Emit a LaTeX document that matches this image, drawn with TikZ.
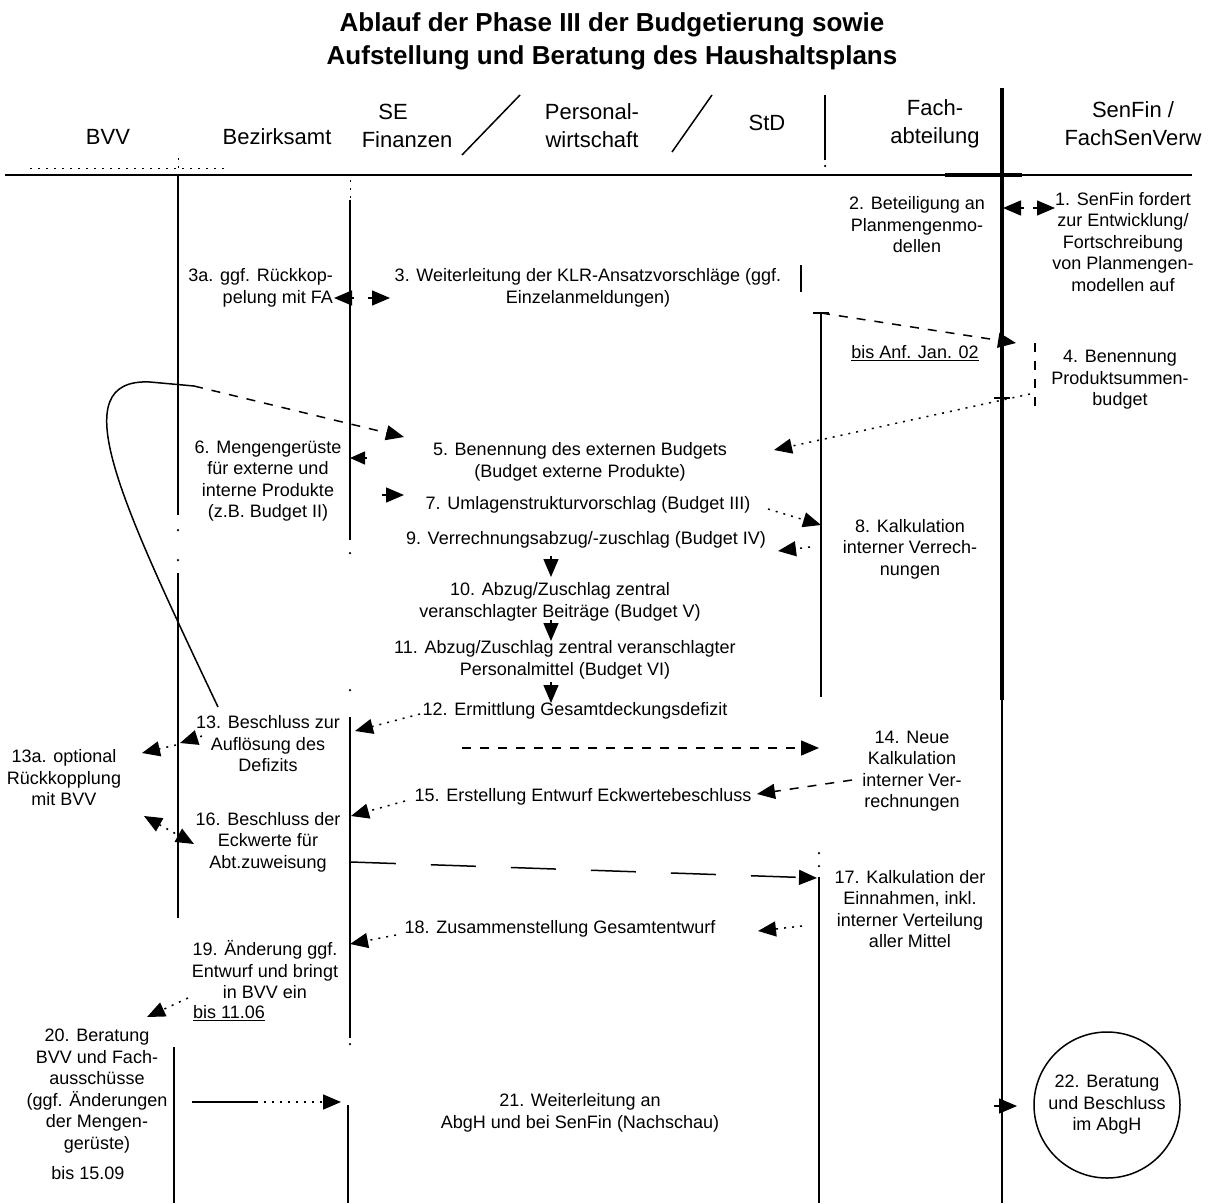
\documentclass[tikz,border=0pt]{standalone}
\usepackage{fontspec}
\setmainfont{Liberation Sans}
\usetikzlibrary{arrows.meta}
\tikzset{
  txt/.style={font=\fontsize{18}{21.5}\selectfont, align=center, inner sep=0pt},
  hdr/.style={font=\fontsize{22}{28}\selectfont, align=center, inner sep=0pt},
  ttl/.style={font=\fontsize{26}{32}\selectfont\bfseries, inner sep=0pt},
  ln/.style={line width=1.5pt},
  tip/.style={-{Triangle[length=18pt,width=15pt]}},
  dtip/.style={{Triangle[length=18pt,width=15pt]}-{Triangle[length=18pt,width=15pt]}},
  dotl/.style={dash pattern=on 2pt off 6pt, line width=1.5pt},
  dashl/.style={dash pattern=on 9pt off 9pt, line width=1.5pt},
  longdash/.style={dash pattern=on 45pt off 35pt, line width=1.5pt},
  dotpt/.style={fill, circle, inner sep=0pt, minimum size=2.5pt}
}
\begin{document}
\begin{tikzpicture}[x=1pt,y=-1pt]
\useasboundingbox (0,0) rectangle (1221,1203);
% ---------- title
\node[ttl] (t1) at (612,25) {Ablauf der Phase III der Budgetierung sowie};
\node[ttl] (t2) at (612,58) {Aufstellung und Beratung des Haushaltsplans};
% ---------- header
\node[hdr] (hBVV) at (108,137) {BVV};
\node[hdr] (hBA) at (277,137) {Bezirksamt};
\node[hdr] (hSE1) at (393,112) {SE};
\node[hdr] (hSE2) at (407,140) {Finanzen};
\node[hdr] (hPW) at (592,126) {Personal-\\wirtschaft};
\node[hdr] (hStD) at (767,123) {StD};
\node[hdr] (hFA) at (935,124) {Fach-\\abteilung};
\node[hdr] (hSen) at (1133,124) {SenFin /\\FachSenVerw};
\draw[ln] (5,175) -- (1192,175);
\draw[line width=3.5pt] (945,175) -- (1022,175);
\draw[dotl, line width=1pt] (30,168) -- (225,168);
\draw[ln] (520,95) -- (462,155);
\draw[ln] (712,95) -- (672,152);
\draw[ln] (825,95) -- (825,160);
\node[dotpt] (hd1) at (825,166) {};
% ---------- lifelines
\draw[line width=3.5pt] (1002,88) -- (1002,700);
\draw[line width=2pt] (1002,700) -- (1002,1203);
\draw[ln] (994,398) -- (1010,398);
\draw[dotl, line width=1pt] (178,158) -- (178,175);
\draw[ln] (178,175) -- (178,515);
\node[dotpt] (b1) at (178,530) {};
\node[dotpt] (b2) at (178,560) {};
\draw[ln] (178,573) -- (178,918);
\draw[ln] (174,1047) -- (174,1203);
\draw[dotl, line width=1pt] (350,180) -- (350,200);
\draw[ln] (350,200) -- (350,540);
\node[dotpt] (b3) at (350,553) {};
\node[dotpt] (b4) at (350,690) {};
\draw[ln] (350,717) -- (350,1038);
\node[dotpt] (b5) at (350,1044) {};
\draw[ln] (348,1105) -- (348,1203);
\draw[ln] (813,313) coordinate (tL) -- (829,313);
\coordinate (tT) at (821,313);
\draw[ln] (tT) -- (821,697);
\node[dotpt] (b6) at (819,853) {};
\node[dotpt] (b7) at (819,866) {};
\draw[ln] (819,877) -- (819,1203);
\draw[ln] (801,265) -- (801,292);
\draw[dashl] (1035,343) -- (1035,410);
% ---------- texts
\node[txt] (n1) at (1123,242) {1. SenFin fordert\\zur Entwicklung/\\Fortschreibung\\von Planmengen-\\modellen auf};
\node[txt] (n2) at (917,225) {2. Beteiligung an\\Planmengenmo-\\dellen};
\node[txt, align=right, anchor=east] (n3a) at (333,288) {3a. ggf. Rückkop-\\pelung mit FA};
\node[txt] (n3) at (588,288) {3. Weiterleitung der KLR-Ansatzvorschläge (ggf.\\Einzelanmeldungen)};
\node[txt] (dl1) at (915,353) {\underline{bis Anf. Jan. 02}};
\node[txt] (n4) at (1120,380) {4. Benennung\\Produktsummen-\\budget};
\node[txt] (n5) at (580,462) {5. Benennung des externen Budgets\\(Budget externe Produkte)};
\node[txt] (n6) at (268,481) {6. Mengengerüste\\für externe und\\interne Produkte\\(z.B. Budget II)};
\node[txt] (n7) at (588,505) {7. Umlagenstrukturvorschlag (Budget III)};
\node[txt] (n8) at (910,549) {8. Kalkulation\\interner Verrech-\\nungen};
\node[txt] (n9) at (586,540) {9. Verrechnungsabzug/-zuschlag (Budget IV)};
\node[txt] (n10) at (560,602) {10. Abzug/Zuschlag zentral\\veranschlagter Beiträge (Budget V)};
\node[txt] (n11) at (565,660) {11. Abzug/Zuschlag zentral veranschlagter\\Personalmittel (Budget VI)};
\node[txt] (n12) at (575,711) {12. Ermittlung Gesamtdeckungsdefizit};
\node[txt] (n13) at (268,744) {13. Beschluss zur\\Auflösung des\\Defizits};
\node[txt] (n13a) at (64,778) {13a. optional\\Rückkopplung\\mit BVV};
\node[txt] (n14) at (912,771) {14. Neue\\Kalkulation\\interner Ver-\\rechnungen};
\node[txt] (n15) at (583,797) {15. Erstellung Entwurf Eckwertebeschluss};
\node[txt] (n16) at (268,842) {16. Beschluss der\\Eckwerte für\\Abt.zuweisung};
\node[txt] (n17) at (910,909) {17. Kalkulation der\\Einnahmen, inkl.\\interner Verteilung\\aller Mittel};
\node[txt] (n18) at (560,929) {18. Zusammenstellung Gesamtentwurf};
\node[txt] (n19) at (265,970) {19. Änderung ggf.\\Entwurf und bringt\\in BVV ein};
\node[txt] (dl2) at (229,1013) {\underline{bis 11.06}};
\node[txt] (n20) at (97,1091) {20. Beratung\\BVV und Fach-\\ausschüsse\\(ggf. Änderungen\\der Mengen-\\gerüste)};
\node[txt] (dl3) at (88,1173) {bis 15.09};
\node[txt] (n21) at (580,1113) {21. Weiterleitung an\\AbgH und bei SenFin (Nachschau)};
\node[txt, circle, draw, line width=1.5pt, minimum size=146pt] (n22) at (1107,1105) {22. Beratung\\und Beschluss\\im AbgH};
% ---------- connectors
\coordinate (p1a) at (1024,208); \coordinate (p1b) at (1003,208);
\coordinate (p1c) at (1033,208); \coordinate (p1d) at (1055,208);
\draw[ln, tip] (p1a) -- (p1b);
\draw[ln, tip] (p1c) -- (p1d);
\coordinate (p2) at (1016,343);
\draw[dashl, tip] (tT) -- (p2);
\coordinate (p3a) at (354,298); \coordinate (p3b) at (334,298);
\coordinate (p3c) at (368,298); \coordinate (p3d) at (390,298);
\draw[ln, tip] (p3a) -- (p3b);
\draw[ln, tip] (p3c) -- (p3d);
\coordinate (p4a) at (1030,394); \coordinate (p4b) at (774,450);
\draw[dotl, tip] (p4a) -- (p4b);
\coordinate (c5s) at (218,707); \coordinate (c5m) at (194,386); \coordinate (c5e) at (404,437);
\draw[ln] (c5s) .. controls (120,500) and (62,378) .. (150,382) -- (c5m);
\draw[dashl, tip] (c5m) -- (c5e);
\coordinate (p6a) at (367,458); \coordinate (p6b) at (350,458);
\draw[ln, -{Triangle[length=15pt,width=13pt]}] (p6a) -- (p6b);
\coordinate (p7a) at (382,495); \coordinate (p7b) at (404,495);
\draw[ln, tip] (p7a) -- (p7b);
\coordinate (p8a) at (768,509); \coordinate (p8b) at (821,525);
\draw[dotl, tip] (p8a) -- (p8b);
\coordinate (p9a) at (810,547); \coordinate (p9b) at (778,551);
\draw[dotl, tip] (p9a) -- (p9b);
\draw[ln, tip] (551,556) -- (551,577);
\draw[ln, tip] (551,620) -- (551,641);
\draw[ln, tip] (551,682) -- (551,703);
\coordinate (p12a) at (420,714); \coordinate (p12b) at (355,731);
\draw[dotl, tip] (p12a) -- (p12b);
\coordinate (p13a) at (202,736); \coordinate (p13b) at (180,743);
\coordinate (p13c) at (176,745); \coordinate (p13d) at (142,753);
\draw[dotl, tip] (p13a) -- (p13b);
\draw[dotl, tip] (p13c) -- (p13d);
\coordinate (p14a) at (462,748); \coordinate (p14b) at (819,748);
\draw[dashl, tip] (p14a) -- (p14b);
\coordinate (p14c) at (852,780); \coordinate (p14d) at (757,794);
\draw[dashl, tip] (p14c) -- (p14d);
\coordinate (p15a) at (405,801); \coordinate (p15b) at (351,816);
\draw[dotl, tip] (p15a) -- (p15b);
\coordinate (p16a) at (144,816); \coordinate (p16b) at (194,844);
\draw[dotl, dtip] (p16a) -- (p16b);
\coordinate (p16c) at (351,862); \coordinate (p16d) at (817,878);
\draw[longdash, tip] (p16c) -- (p16d);
\coordinate (p17a) at (802,926); \coordinate (p17b) at (758,931);
\draw[dotl, tip] (p17a) -- (p17b);
\coordinate (p18a) at (396,935); \coordinate (p18b) at (350,944);
\draw[dotl, tip] (p18a) -- (p18b);
\coordinate (p19a) at (188,998); \coordinate (p19b) at (147,1017);
\draw[dotl, tip] (p19a) -- (p19b);
\coordinate (p20a) at (192,1102); \coordinate (p20m) at (256,1102); \coordinate (p20b) at (341,1102);
\draw[ln] (p20a) -- (p20m);
\draw[dotl, tip] (p20m) -- (p20b);
\coordinate (p21a) at (994,1106); \coordinate (p21b) at (1017,1106);
\draw[ln, tip] (p21a) -- (p21b);
\end{tikzpicture}
\end{document}
